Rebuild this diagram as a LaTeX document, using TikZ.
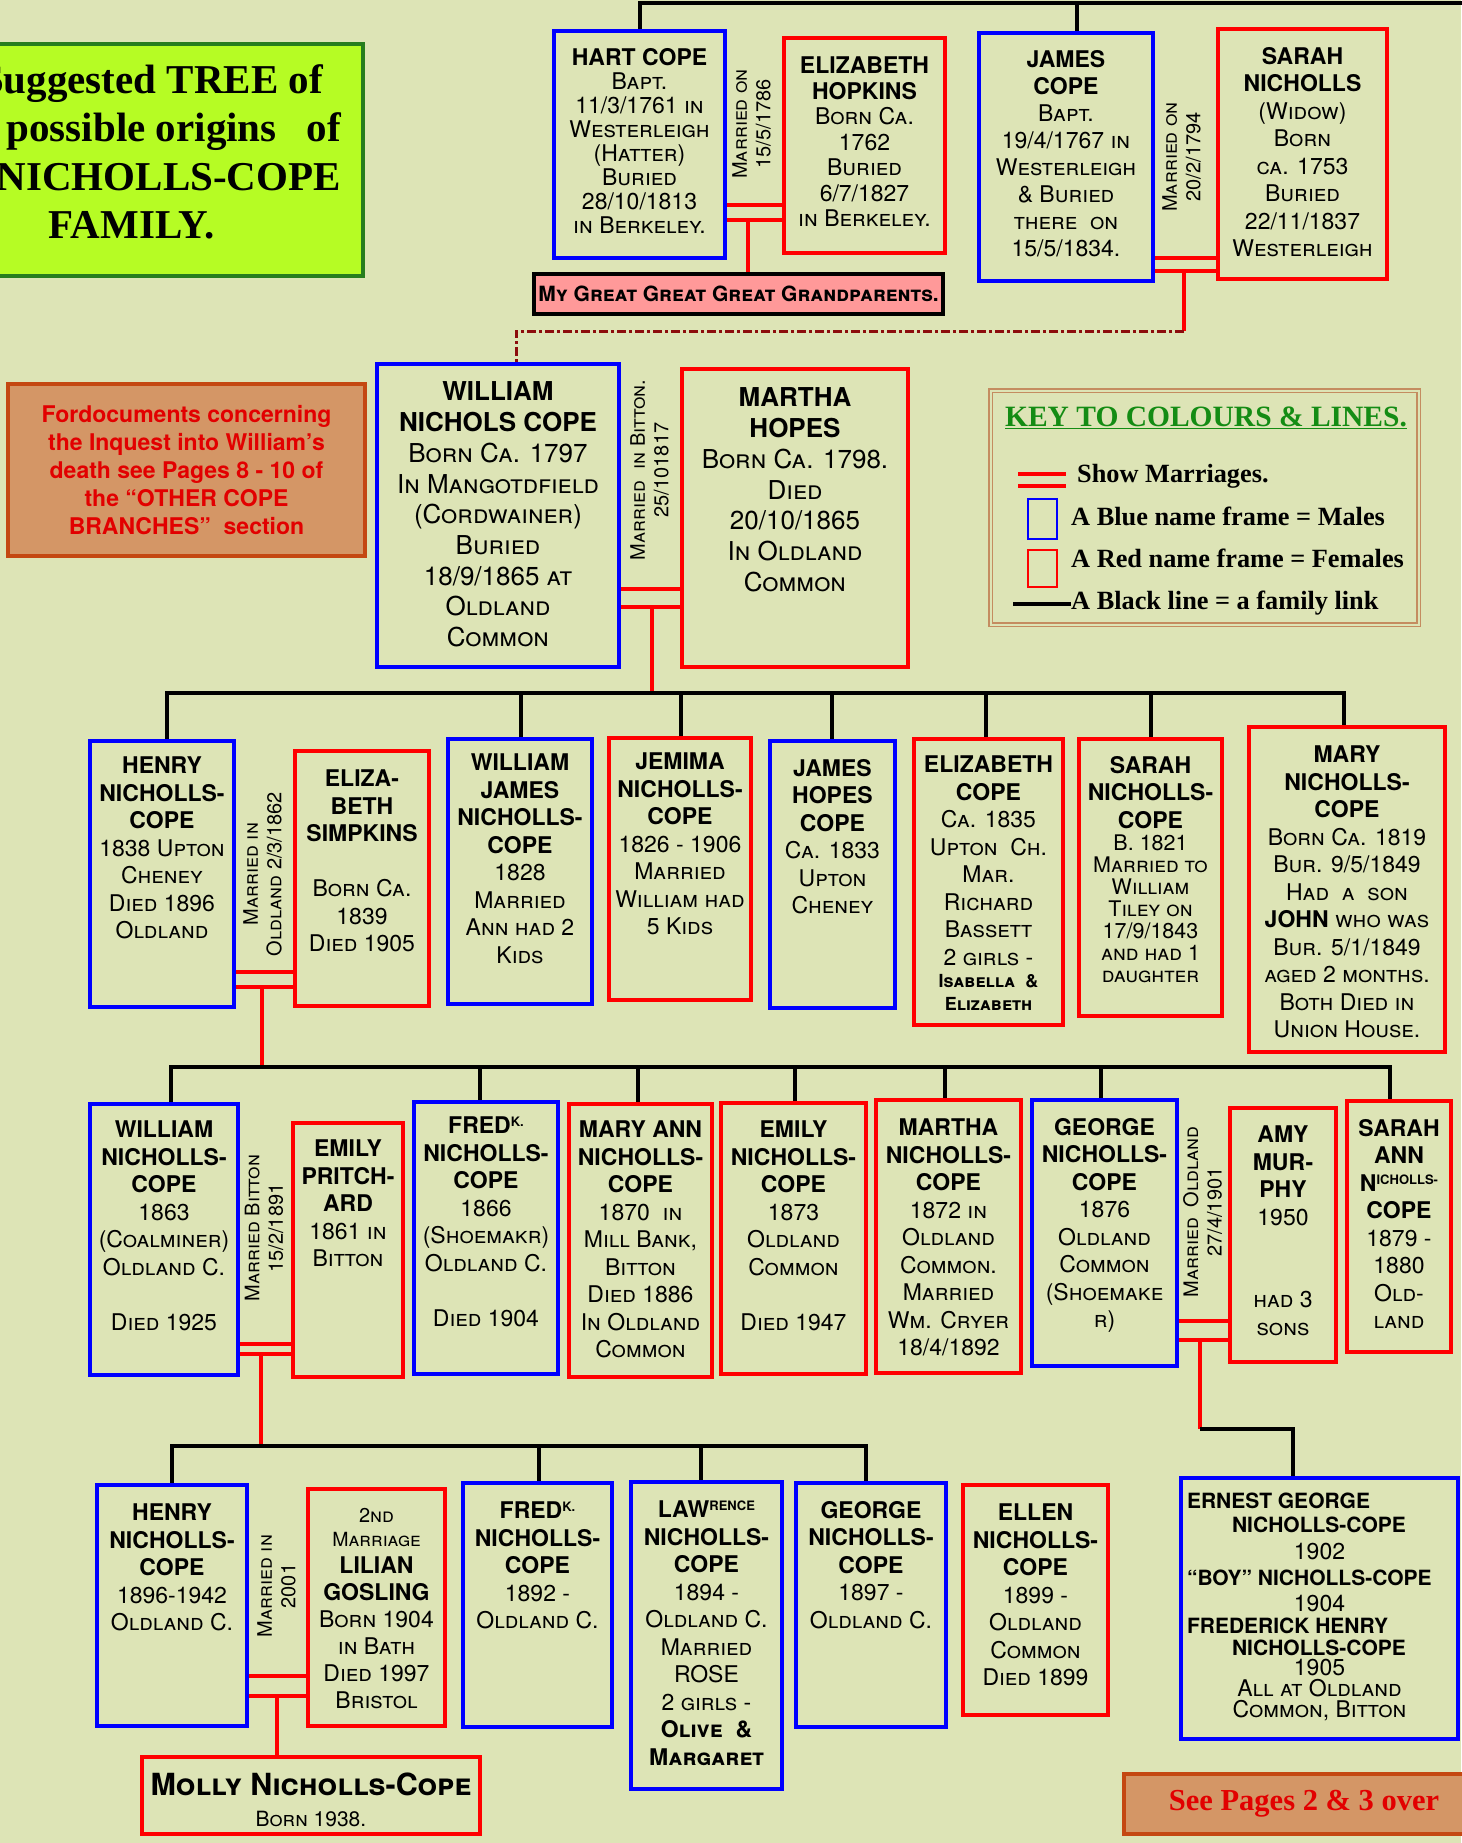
\documentclass[tikz,border=0pt]{standalone}
\usepackage{fontspec}
\setmainfont{TeX Gyre Heros}
\newfontfamily\timesfont{Liberation Serif}

\definecolor{paper}{RGB}{221,228,182}
\definecolor{lime}{RGB}{182,252,36}
\definecolor{leafgreen}{RGB}{38,125,30}
\definecolor{clay}{RGB}{212,150,102}
\definecolor{rust}{RGB}{196,72,18}
\definecolor{notered}{RGB}{226,0,0}
\definecolor{pinkish}{RGB}{255,153,153}
\definecolor{maroon}{RGB}{140,12,12}
\definecolor{keyframe}{RGB}{196,140,96}
\definecolor{keygreen}{RGB}{20,140,20}

% text block of a name frame: width, height, top gap, lines
\newcommand\card[4]{\parbox[c][#2pt][t]{#1pt}{\centering\vspace*{#3pt}#4}}
% raised small letters (Fred^k., Law^rence)
\newcommand\hi[1]{\raisebox{7pt}{\fontsize{13}{13}\selectfont #1}}

\begin{document}
\begin{tikzpicture}[x=1pt, y=-1pt,
    body/.style={font=\fontsize{23}{#1}\selectfont},
    male/.style={draw=blue, line width=4pt, inner sep=0pt, anchor=north west, body=27.5},
    female/.style={draw=red, line width=4pt, inner sep=0pt, anchor=north west, body=27.5},
    wed/.style={red, line width=4pt},
    kin/.style={black, line width=4pt},
    dotlink/.style={maroon, line width=3pt, dash pattern=on 9pt off 3pt on 3pt off 3pt},
    marr/.style={rotate=90, align=center, inner sep=0pt, font=\fontsize{20}{23.5}\selectfont\scshape},
    keytext/.style={anchor=base west, inner sep=0pt, font=\timesfont\bfseries\fontsize{26.3}{27}\selectfont}]
    \useasboundingbox (0,0) rectangle (1461,1843);
    \fill[paper] (0,0) rectangle (1461,1843);

    % Title and notes
    \node[draw=leafgreen, fill=lime, line width=4pt, minimum width=400, minimum height=232, anchor=north east] (title) at (365,42) {};
    \node[anchor=north east, align=right, inner sep=0pt, font=\timesfont\bfseries\fontsize{41}{48.5}\selectfont] (titletext) at (341,64)
        {Suggested TREE of\hspace*{18pt}\\possible origins\hspace{30pt}of\hspace*{8pt}\\NICHOLLS-COPE\\FAMILY.\hspace*{126pt}};
    \node[draw=rust, fill=clay, line width=4pt, minimum width=357, minimum height=172, anchor=north west, align=center,
          text=notered, font=\bfseries\fontsize{23}{27.8}\selectfont] (inquest) at (6,382)
        {Fordocuments concerning\\the Inquest into William’s\\death see Pages 8 - 10 of\\the “OTHER COPE\\BRANCHES”\ \ section};
    \node[draw=rust, fill=clay, line width=4pt, minimum width=360, minimum height=60, anchor=north west,
          text=notered, font=\timesfont\bfseries\fontsize{30.5}{31}\selectfont] (seepages) at (1122,1772)
        {See Pages 2 \& 3 over};

    % First generation
    \node[male, body=24] (hart) at (552,29) {\card{171}{227}{17}{\textbf{HART COPE}\\ \scshape Bapt.\\ 11/3/1761 in\\ Westerleigh\\ (Hatter)\\ Buried\\ 28/10/1813\\ in Berkeley.}};
    \node[female, body=25.5] (ehop) at (782,36) {\card{161}{215}{19}{\bfseries ELIZABETH\\ HOPKINS\\ \mdseries\scshape Born Ca.\\ 1762\\ Buried\\ 6/7/1827\\ in Berkeley.}};
    \node[male, body=27] (jcope) at (977,31) {\card{174}{248}{17}{\bfseries JAMES\\ COPE\\ \mdseries\scshape Bapt.\\ 19/4/1767 in\\ Westerleigh\\ \& Buried\\ there\ \ on\\ 15/5/1834.}};
    \node[female, body=27.5] (snich) at (1216,27) {\card{169}{250}{18}{\bfseries SARAH\\ NICHOLLS\\ \mdseries\scshape (Widow)\\ Born\\ ca. 1753\\ Buried\\ 22/11/1837\\ Westerleigh}};
    \node[draw=black, line width=4pt, fill=pinkish, minimum width=409, minimum height=40, inner sep=0pt, anchor=north west,
          font=\fontsize{21}{21}\selectfont\bfseries\scshape] (gggp) at (532,272) {My Great Great Great Grandparents.};
    \node[marr] (wed1) at (751.5,124) {Married on\\15/5/1786};
    \node[marr] (wed2) at (1181.5,157) {Married on\\20/2/1794};

    \draw[kin] (hart.north) -- (hart.north |- 0,3) -- (1475,3);
    \draw[kin] (jcope.north -| 1077,0) -- (1077,3);
    \draw[wed] (hart.east |- 0,205) -- (ehop.west |- 0,205);
    \draw[wed] (hart.east |- 0,220) -- (ehop.west |- 0,220);
    \draw[wed] (748,220) -- (gggp.north -| 748,0);
    \draw[wed] (jcope.east |- 0,258) -- (snich.west |- 0,258);
    \draw[wed] (jcope.east |- 0,271) -- (snich.west |- 0,271);
    \draw[wed] (1184,271) -- (1184,331);

    % Second generation
    \node[male, font=\fontsize{26}{30.7}\selectfont] (wnc) at (375,362) {\card{242}{303}{18}{\bfseries WILLIAM\\ NICHOLS COPE\\ \mdseries\scshape Born Ca. 1797\\ In Mangotdfield\\ (Cordwainer)\\ Buried\\ 18/9/1865 at\\ Oldland\\ Common}};
    \node[female, font=\fontsize{26}{30.7}\selectfont] (mhopes) at (680,367) {\card{226}{298}{19}{\bfseries MARTHA\\ HOPES\\ \mdseries\scshape Born Ca. 1798.\\ Died\\ 20/10/1865\\ In Oldland\\ Common}};
    \node[marr] (wed3) at (649.5,470) {Married\ \ in Bitton.\\25/101817};
    \draw[dotlink] (1184,331) -- (516,331) -- (wnc.north -| 516,0);
    \draw[wed] (wnc.east |- 0,589) -- (mhopes.west |- 0,589);
    \draw[wed] (wnc.east |- 0,607) -- (mhopes.west |- 0,607);
    \draw[wed] (652,607) -- (652,693);

    % Key
    \node[draw=keyframe, double=paper, double distance=2pt, line width=1.5pt, minimum width=428, minimum height=234, anchor=north west] (key) at (990,390) {};
    \node[inner sep=0pt, text=keygreen, font=\timesfont\bfseries\fontsize{29.5}{30}\selectfont] (keyhead) at (1206,418) {\underline{KEY TO COLOURS \& LINES.}};
    \draw[wed] (1018,474) -- (1066,474);
    \draw[wed] (1018,486) -- (1066,486);
    \node[draw=blue, line width=2pt, minimum width=29, minimum height=40, inner sep=0pt] (kblue) at (1042.5,519) {};
    \node[draw=red, line width=2pt, minimum width=29, minimum height=37, inner sep=0pt] (kred) at (1042.5,568.5) {};
    \draw[kin] (1013,604) -- (1071,604);
    \node[keytext] (kt1) at (1077,482) {Show Marriages.};
    \node[keytext] (kt2) at (1071,525) {A Blue name frame = Males};
    \node[keytext] (kt3) at (1071,567) {A Red name frame = Females};
    \node[keytext] (kt4) at (1071,609) {A Black line = a family link};

    % Third generation
    \node[male] (henry) at (88,739) {\card{144}{266}{16}{\bfseries HENRY\\ NICHOLLS-\\ COPE\\ \mdseries\scshape 1838 Upton\\ Cheney\\ Died 1896\\ Oldland}};
    \node[female] (esimp) at (293,749) {\card{134}{255}{19}{\bfseries ELIZA-\\ BETH\\ SIMPKINS\\[27.5pt] \mdseries\scshape Born Ca.\\ 1839\\ Died 1905}};
    \node[male] (wjnc) at (446,737) {\card{144}{265}{15}{\bfseries WILLIAM\\ JAMES\\ NICHOLLS-\\ COPE\\ \mdseries\scshape 1828\\ Married\\ Ann had 2\\ Kids}};
    \node[female] (jemima) at (607,736) {\card{142}{262}{15}{\bfseries JEMIMA\\ NICHOLLS-\\ COPE\\ \mdseries\scshape 1826 - 1906\\ Married\\ William had\\ 5 Kids}};
    \node[male] (jhopes) at (768,739) {\card{125}{267}{18}{\bfseries JAMES\\ HOPES\\ COPE\\ \mdseries\scshape Ca. 1833\\ Upton\\ Cheney}};
    \node[female] (ecope) at (912,737) {\card{149}{286}{17}{\bfseries ELIZABETH\\ COPE\\ \mdseries\scshape Ca. 1835\\ Upton\ \ Ch.\\ Mar.\\ Richard\\ Bassett\\ 2 girls -\par
        \fontsize{18}{22.5}\selectfont\bfseries Isabella\ \ \&\\ Elizabeth}};
    \node[female] (snc) at (1077,737) {\card{143}{277}{17}{\bfseries SARAH\\ NICHOLLS-\\ COPE\par
        \fontsize{21.5}{22}\selectfont\mdseries\scshape B. 1821\\ Married to\\ William\\ Tiley on\\ 17/9/1843\\ and had 1\\ daughter}};
    \node[female] (mary) at (1247,725) {\card{196}{325}{19}{\bfseries MARY\\ NICHOLLS-\\ COPE\\ \mdseries\scshape Born Ca. 1819\\ Bur. 9/5/1849\\ Had\ \ a\ \ son\\ {\bfseries JOHN} who was\\ Bur. 5/1/1849\\ aged 2 months.\\ Both Died in\\ Union House.}};
    \node[marr] (wed4) at (262.5,874) {Married in\\Oldland 2/3/1862};

    \draw[kin] (henry.north -| 167,0) -- (167,693) -- (1344,693) -- (mary.north -| 1344,0);
    \foreach \k/\x in {wjnc/521, jemima/681, jhopes/832, ecope/986, snc/1151}
        \draw[kin] (\k.north -| \x,0) -- (\x,693);
    \draw[wed] (henry.east |- 0,972) -- (esimp.west |- 0,972);
    \draw[wed] (henry.east |- 0,987) -- (esimp.west |- 0,987);
    \draw[wed] (262,987) -- (262,1067);

    % Fourth generation
    \node[male] (wnc2) at (88,1102) {\card{148}{271}{17}{\bfseries WILLIAM\\ NICHOLLS-\\ COPE\\ \mdseries\scshape 1863\\ (Coalminer)\\ Oldland C.\\[27.5pt] Died 1925}};
    \node[female] (epritch) at (291,1121) {\card{110}{254}{17}{\bfseries EMILY\\ PRITCH-\\ ARD\\ \mdseries\scshape 1861 in\\ Bitton}};
    \node[male] (fred1) at (412,1100) {\card{144}{272}{15}{\bfseries FRED\hi{K.}\\ NICHOLLS-\\ COPE\\ \mdseries\scshape 1866\\ (Shoemakr)\\ Oldland C.\\[27.5pt] Died 1904}};
    \node[female] (maryann) at (567,1102) {\card{143}{273}{17}{\bfseries MARY ANN\\ NICHOLLS-\\ COPE\\ \mdseries\scshape 1870\ \ in\\ Mill Bank,\\ Bitton\\ Died 1886\\ In Oldland\\ Common}};
    \node[female] (emily) at (719,1101) {\card{145}{271}{18}{\bfseries EMILY\\ NICHOLLS-\\ COPE\\ \mdseries\scshape 1873\\ Oldland\\ Common\\[27.5pt] Died 1947}};
    \node[female] (martha) at (874,1098) {\card{145}{273}{19}{\bfseries MARTHA\\ NICHOLLS-\\ COPE\\ \mdseries\scshape 1872 in\\ Oldland\\ Common.\\ Married\\ Wm. Cryer\\ 18/4/1892}};
    \node[male] (george) at (1030,1098) {\card{145}{266}{18}{\bfseries GEORGE\\ NICHOLLS-\\ COPE\\ \mdseries\scshape 1876\\ Oldland\\ Common\\ (Shoemake\\ r)}};
    \node[female] (amy) at (1228,1106) {\card{106}{254}{18}{\bfseries AMY\\ MUR-\\ PHY\\ \mdseries 1950\\[55pt] \scshape had 3\\ sons}};
    \node[female] (sarahann) at (1345,1099) {\card{104}{251}{18}{\bfseries SARAH\\ ANN\\ N\hi{ICHOLLS-}\\ COPE\\ \mdseries\scshape 1879 -\\ 1880\\ Old-\\ land}};
    \node[marr] (wed5) at (264,1228) {Married Bitton\\15/2/1891};
    \node[marr] (wed6) at (1202.5,1212) {Married\ \ Oldland\\27/4/1901};

    \draw[kin] (wnc2.north -| 171,0) -- (171,1067) -- (1390,1067) -- (sarahann.north -| 1390,0);
    \foreach \k/\x in {fred1/480, maryann/638, emily/795, martha/945, george/1101}
        \draw[kin] (\k.north -| \x,0) -- (\x,1067);
    \draw[wed] (wnc2.east |- 0,1344) -- (epritch.west |- 0,1344);
    \draw[wed] (wnc2.east |- 0,1354) -- (epritch.west |- 0,1354);
    \draw[wed] (261,1354) -- (261,1446);
    \draw[wed] (george.east |- 0,1321) -- (amy.west |- 0,1321);
    \draw[wed] (george.east |- 0,1340) -- (amy.west |- 0,1340);
    \draw[wed] (1200,1340) -- (1200,1429);

    % Fifth generation
    \node[male] (henry2) at (95,1483) {\card{150}{241}{19}{\bfseries HENRY\\ NICHOLLS-\\ COPE\\ \mdseries\scshape 1896-1942\\ Oldland C.}};
    \node[female] (lilian) at (306,1487) {\card{137}{237}{19}{\scshape\fontsize{20}{24}\selectfont 2nd\\ \fontsize{19.5}{24}\selectfont Marriage\par
        \fontsize{23}{27}\selectfont\upshape\bfseries LILIAN\\ GOSLING\\ \mdseries\scshape Born 1904\\ in Bath\\ Died 1997\\ Bristol}};
    \node[male] (fred2) at (461,1481) {\card{149}{244}{19}{\bfseries FRED\hi{K.}\\ NICHOLLS-\\ COPE\\ \mdseries\scshape 1892 -\\ Oldland C.}};
    \node[male] (lawr) at (629,1480) {\card{151}{307}{19}{\bfseries LAW\hi{RENCE}\\ NICHOLLS-\\ COPE\\ \mdseries\scshape 1894 -\\ Oldland C.\\ Married\\ ROSE\\ 2 girls -\\ \bfseries Olive\ \ \&\\ Margaret}};
    \node[male] (george2) at (794,1481) {\card{150}{244}{18}{\bfseries GEORGE\\ NICHOLLS-\\ COPE\\ \mdseries\scshape 1897 -\\ Oldland C.}};
    \node[female] (ellen) at (961,1483) {\card{145}{230}{19}{\bfseries ELLEN\\ NICHOLLS-\\ COPE\\ \mdseries\scshape 1899 -\\ Oldland\\ Common\\ Died 1899}};
    \node[male] (ernest) at (1179,1476) {\parbox[c][261pt][t]{277pt}{\vspace*{15pt}\fontsize{21}{22}\selectfont\bfseries
        \hspace*{6pt}ERNEST GEORGE\par\vspace{2pt}
        \hspace*{51pt}NICHOLLS-COPE\par\vspace{5pt}
        {\centering\mdseries\fontsize{23}{22}\selectfont 1902\par}\vspace{4pt}
        \hspace*{6pt}“BOY” NICHOLLS-COPE\par\vspace{4pt}
        {\centering\mdseries\fontsize{23}{22}\selectfont 1904\par}
        \hspace*{6pt}FREDERICK HENRY\par
        \hspace*{51pt}NICHOLLS-COPE\par\vspace{-1pt}
        {\centering\mdseries\fontsize{23}{21}\selectfont 1905\par
        \scshape All at Oldland\\ Common, Bitton\par}}};
    \node[female] (molly) at (140,1755) {\card{338}{77}{16}{\fontsize{30.5}{31}\selectfont\bfseries\scshape Molly Nicholls-Cope\par
        \fontsize{21}{31}\selectfont\mdseries Born 1938.}};
    \node[marr] (wed7) at (276.5,1586) {Married in\\2001};

    \draw[kin] (henry2.north -| 172,0) -- (172,1446) -- (866,1446) -- (george2.north -| 866,0);
    \foreach \k/\x in {fred2/539, lawr/701}
        \draw[kin] (\k.north -| \x,0) -- (\x,1446);
    \draw[wed] (henry2.east |- 0,1676) -- (lilian.west |- 0,1676);
    \draw[wed] (henry2.east |- 0,1696) -- (lilian.west |- 0,1696);
    \draw[wed] (277,1696) -- (molly.north -| 277,0);
    \draw[kin] (1200,1429) -- (1293,1429) -- (ernest.north -| 1293,0);
\end{tikzpicture}
\end{document}
